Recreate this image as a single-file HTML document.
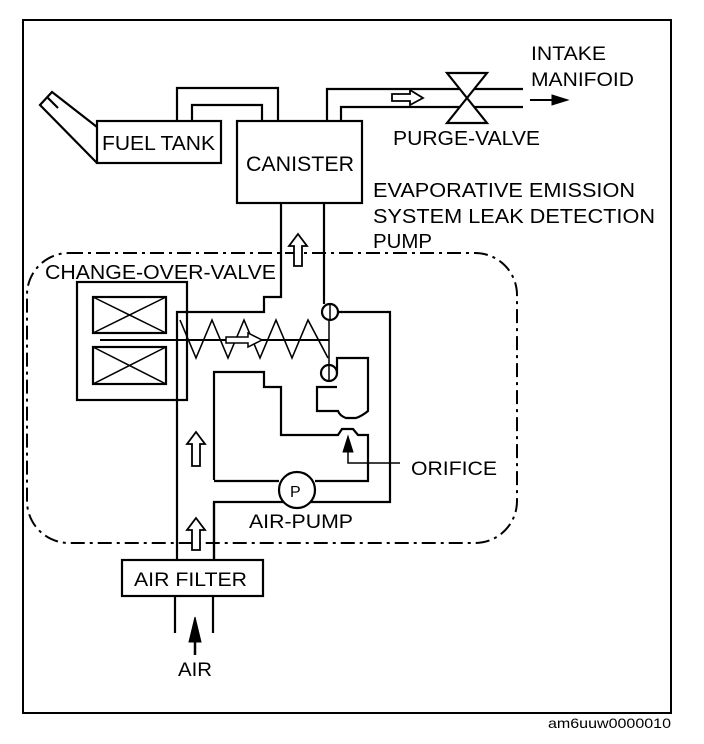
<!DOCTYPE html>
<html><head><meta charset="utf-8"><style>
html,body{margin:0;padding:0;background:#fff;}
svg{display:block}
text{font-family:"Liberation Sans",Arial,sans-serif;fill:#000}
</style></head><body>
<svg width="704" height="744" viewBox="0 0 704 744" xmlns="http://www.w3.org/2000/svg">
<g fill="none" stroke="#000" stroke-width="2.2">
<rect x="23" y="20" width="648" height="693" stroke-width="2"/>
<rect x="27" y="253" width="490" height="290" rx="42" ry="42" stroke-width="2" stroke-dasharray="14,5,3,5"/>
<path d="M97 127 L52 92 L40 105 L97 163"/>
<path d="M47 97 L58 108" />
<rect x="97" y="121" width="124" height="42" fill="#fff"/>
<path d="M177 121 V88 H278 V121"/>
<path d="M192 121 V105 H262 V121"/>
<rect x="237" y="121" width="125" height="82" fill="#fff"/>
<path d="M327 121 V89 H523"/>
<path d="M341 121 V107 H523"/>
<path d="M447 73 H487 L447 123 H487 Z" fill="#fff"/>
<path d="M281 203 V297 H264 V312 H177 V596"/>
<path d="M324 203 V304"/>
<path d="M338 312 H390 V502 H214 V560"/>
<rect x="77" y="282" width="110" height="118"/>
<rect x="93" y="297" width="73" height="36"/>
<path d="M93 297 L166 333 M166 297 L93 333" stroke-width="1.5"/>
<rect x="93" y="347" width="73" height="37"/>
<path d="M93 347 L166 384 M166 347 L93 384" stroke-width="1.5"/>
<path d="M100 340 H329" stroke-width="2"/>
<path d="M180 320 L196 358 L212 320 L228 358 L244 320 L260 358 L276 320 L292 358 L308 320 L328 358" stroke-width="1.6"/>
<path d="M329 304 V380" stroke-width="1.5"/>
<circle cx="330" cy="312" r="8" fill="#fff"/>
<path d="M330 304 V320" stroke-width="1.5"/>
<circle cx="329" cy="373" r="8" fill="#fff"/>
<path d="M329 365 V381" stroke-width="1.5"/>
<path d="M337 373 V358 H368 V411 Q362 416 356 418 H346 Q340 416 338 411 H317 V387 H337"/>
<path d="M214 560 V502"/>
<path d="M214 480 V372 H264 V387 H281 V435 H338 L342 429 H353 L358 435 H368 V481 H315"/>
<path d="M214 481 H279"/>
<circle cx="297" cy="490" r="18" fill="#fff"/>
<path d="M348 450 V463 H400" stroke-width="1.5"/>
<rect x="122" y="560" width="141" height="36" fill="#fff"/>
<path d="M175 596 V633 M213 596 V633"/>
</g>
<g fill="#fff" stroke="#000" stroke-width="1.8">
<path d="M298 234 L307 246 H302 V266 H294 V246 H289 Z"/>
<path d="M196 432 L205 444 H200 V466 H192 V444 H187 Z"/>
<path d="M196 518 L205 530 H200 V550 H192 V530 H187 Z"/>
<path d="M392 94 H410 V90 L423 98 L410 105 V101 H392 Z"/>
<path d="M226 337 H248 V333 L262 340 L248 347 V343 H226 Z" stroke-width="1.5"/>
</g>
<g fill="#000" stroke="#000">
<path d="M530 100 H556" stroke-width="2"/>
<path d="M552 95 L568 100 L552 105 Z"/>
<path d="M195 640 V655" stroke-width="2.5"/>
<path d="M189 642 L195 617 L201 642 Z"/>
<path d="M343 452 L348 436 L353 452 Z"/>
</g>
<g>
<text x="102" y="150" font-size="20" textLength="113" lengthAdjust="spacingAndGlyphs">FUEL TANK</text>
<text x="246" y="171" font-size="21" textLength="108" lengthAdjust="spacingAndGlyphs">CANISTER</text>
<text x="531" y="60" font-size="19" textLength="75" lengthAdjust="spacingAndGlyphs">INTAKE</text>
<text x="531" y="86" font-size="19" textLength="103" lengthAdjust="spacingAndGlyphs">MANIFOID</text>
<text x="393" y="145" font-size="20" textLength="147" lengthAdjust="spacingAndGlyphs">PURGE-VALVE</text>
<text x="373" y="197" font-size="20" textLength="262" lengthAdjust="spacingAndGlyphs">EVAPORATIVE EMISSION</text>
<text x="373" y="223" font-size="20" textLength="282" lengthAdjust="spacingAndGlyphs">SYSTEM LEAK DETECTION</text>
<text x="373" y="248" font-size="20" textLength="59" lengthAdjust="spacingAndGlyphs">PUMP</text>
<text x="45" y="279" font-size="20" textLength="231" lengthAdjust="spacingAndGlyphs">CHANGE-OVER-VALVE</text>
<text x="290" y="497" font-size="16">P</text>
<text x="249" y="528" font-size="19" textLength="104" lengthAdjust="spacingAndGlyphs">AIR-PUMP</text>
<text x="411" y="475" font-size="19" textLength="86" lengthAdjust="spacingAndGlyphs">ORIFICE</text>
<text x="134" y="586" font-size="19" textLength="113" lengthAdjust="spacingAndGlyphs">AIR FILTER</text>
<text x="178" y="676" font-size="19" textLength="34" lengthAdjust="spacingAndGlyphs">AIR</text>
<text x="548" y="728" font-size="14" textLength="123" lengthAdjust="spacingAndGlyphs">am6uuw0000010</text>
</g>
</svg>
</body></html>
